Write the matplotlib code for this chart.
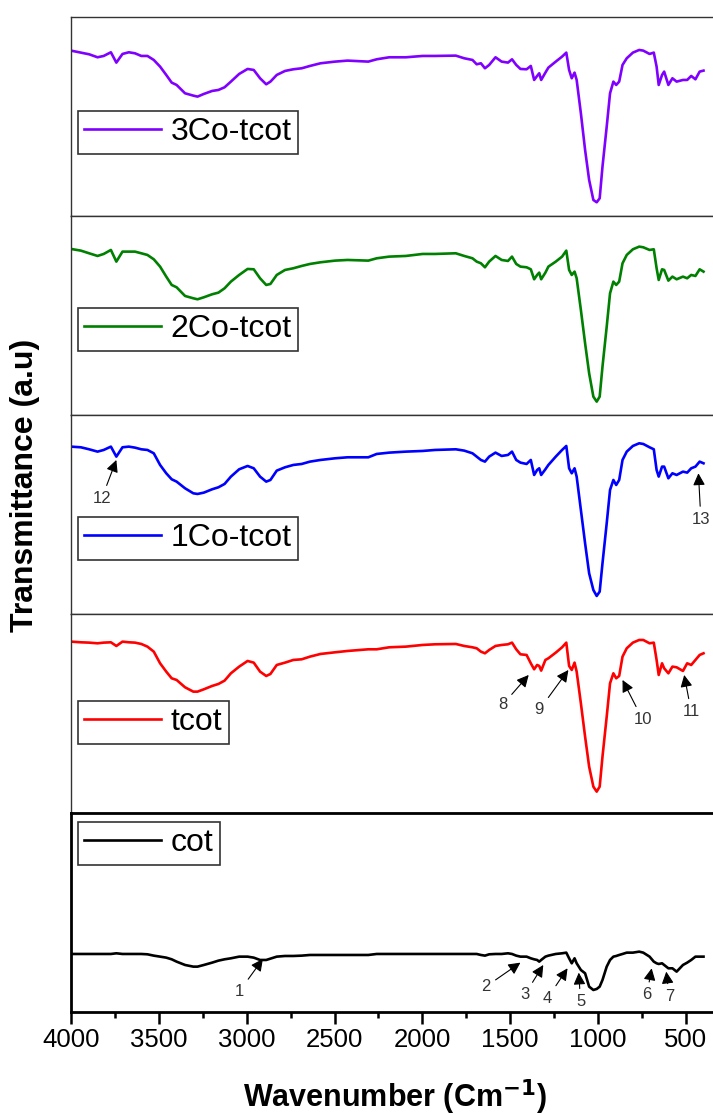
import numpy as np
import matplotlib
matplotlib.use('Agg')
import matplotlib.pyplot as plt

plt.rcParams['font.family'] = ['Liberation Sans', 'DejaVu Sans']

# wavenumber grid (cm-1) shared by all spectra
wavenumber = [4000, 3944, 3897, 3849, 3814, 3773, 3742, 3707, 3671, 3636,
              3600, 3565, 3529, 3493, 3458, 3427, 3399, 3351, 3304, 3280,
              3244, 3197, 3161, 3126, 3090, 3043, 2995, 2960, 2924, 2889,
              2865, 2829, 2782, 2735, 2687, 2640, 2580, 2497, 2426, 2308,
              2260, 2189, 2094, 1999, 1928, 1810, 1762, 1715, 1691, 1667,
              1644, 1620, 1584, 1549, 1513, 1490, 1466, 1442, 1407, 1383,
              1364, 1347, 1335, 1324, 1300, 1283, 1241, 1205, 1181, 1165,
              1150, 1134, 1122, 1098, 1074, 1051, 1027, 1008, 991, 975,
              951, 932, 913, 897, 880, 861, 837, 802, 766, 743,
              707, 683, 667, 655, 636, 624, 600, 577, 553, 517,
              493, 470, 446, 422, 400]

# transmittance (a.u.), one list per sample
t_3co = [496, 490, 485, 476, 480, 491, 460, 486, 491, 488,
         480, 480, 468, 448, 423, 400, 393, 368, 361, 358,
         366, 375, 378, 386, 403, 426, 441, 438, 413, 395,
         403, 423, 435, 440, 443, 450, 458, 463, 466, 463,
         470, 476, 476, 480, 480, 481, 473, 468, 455, 458,
         443, 453, 476, 463, 460, 470, 453, 441, 440, 450,
         408, 420, 428, 408, 430, 445, 463, 478, 490, 438,
         413, 430, 408, 308, 198, 108, 48, 41, 53, 148,
         268, 368, 403, 393, 403, 453, 473, 490, 498, 496,
         486, 490, 448, 393, 423, 433, 393, 413, 403, 408,
         408, 420, 410, 433, 436]

t_2co = [498, 493, 485, 477, 483, 495, 460, 490, 490, 490,
         485, 480, 467, 445, 415, 390, 383, 357, 350, 347,
         353, 362, 367, 380, 400, 420, 438, 437, 410, 390,
         393, 420, 435, 440, 447, 453, 458, 463, 465, 463,
         470, 475, 477, 483, 483, 485, 477, 470, 460, 455,
         443, 460, 477, 465, 462, 475, 453, 445, 443, 437,
         407, 420, 427, 407, 427, 445, 460, 475, 493, 435,
         420, 430, 410, 315, 215, 125, 55, 40, 55, 145,
         265, 365, 400, 390, 400, 455, 480, 497, 505, 503,
         495, 497, 440, 405, 437, 435, 403, 415, 407, 415,
         410, 420, 417, 437, 430]

t_1co = [502, 500, 494, 487, 492, 502, 472, 500, 502, 499,
         494, 492, 482, 447, 422, 404, 397, 377, 362, 360,
         364, 374, 380, 390, 412, 434, 444, 437, 412, 397,
         402, 430, 440, 447, 450, 457, 462, 467, 470, 470,
         480, 484, 487, 489, 492, 494, 490, 482, 472, 462,
         457, 472, 484, 474, 477, 487, 462, 454, 450, 462,
         417, 432, 437, 417, 434, 447, 472, 492, 504, 437,
         422, 437, 412, 312, 212, 122, 72, 54, 67, 152,
         272, 372, 402, 387, 402, 462, 487, 504, 512, 510,
         500, 494, 432, 412, 442, 442, 407, 422, 417, 427,
         424, 437, 442, 457, 452]

t_tcot = [514, 512, 511, 509, 511, 512, 501, 514, 512, 511,
          507, 499, 484, 449, 424, 404, 399, 377, 364, 364,
          371, 381, 387, 397, 419, 439, 456, 451, 424, 411,
          417, 444, 451, 459, 461, 469, 477, 482, 486, 491,
          491, 497, 499, 504, 506, 507, 501, 497, 494, 484,
          479, 489, 501, 504, 506, 511, 491, 476, 474, 449,
          431, 444, 441, 427, 459, 464, 481, 497, 511, 441,
          429, 451, 424, 329, 229, 139, 79, 64, 79, 169,
          289, 389, 419, 404, 411, 469, 494, 511, 519, 519,
          509, 511, 459, 414, 449, 434, 419, 439, 437, 426,
          449, 444, 459, 474, 479]

t_cot = [174, 174, 174, 174, 174, 174, 176, 174, 174, 174,
         174, 173, 169, 166, 163, 158, 151, 141, 136, 136,
         141, 148, 154, 158, 161, 166, 166, 163, 156, 156,
         160, 166, 168, 168, 169, 171, 171, 171, 171, 171,
         174, 174, 174, 174, 174, 174, 174, 174, 174, 171,
         169, 173, 174, 174, 176, 174, 169, 166, 166, 161,
         158, 156, 151, 156, 166, 169, 174, 176, 178, 161,
         146, 161, 146, 126, 116, 76, 66, 69, 76, 96,
         136, 156, 166, 168, 171, 174, 178, 178, 181, 178,
         166, 151, 146, 144, 146, 141, 131, 131, 121, 141,
         148, 156, 166, 166, 166]

labels = ['3Co-tcot', '2Co-tcot', '1Co-tcot', 'tcot', 'cot']
colors = ['#8000ff', '#008000', '#0000ff', '#ff0000', '#000000']
legend_top = [0.528, 0.538, 0.487, 0.563, 0.955]

# band markers: (panel, number, wavenumber, value, label wavenumber, label value)
peaks = [
    (4, '1', 2908, 159, 3043, 61),
    (4, '2', 1442, 148, 1639, 76),
    (4, '3', 1312, 141, 1418, 51),
    (4, '4', 1174, 131, 1288, 41),
    (4, '5', 1110, 118, 1100, 31),
    (4, '6', 695, 131, 723, 51),
    (4, '7', 612, 121, 595, 46),
    (3, '8', 1395, 414, 1544, 324),
    (3, '9', 1169, 429, 1335, 309),
    (3, '10', 861, 399, 747, 281),
    (3, '11', 510, 414, 470, 304),
    (2, '12', 3742, 462, 3825, 347),
    (2, '13', 429, 422, 415, 284),
]

fig, axes = plt.subplots(5, 1, figsize=(7.13, 11.15), dpi=100, sharex=True)
fig.subplots_adjust(left=0.0996, right=1.0, bottom=0.0924, top=0.9848, hspace=0)

series = [t_3co, t_2co, t_1co, t_tcot, t_cot]
for i, ax in enumerate(axes):
    ax.plot(wavenumber, series[i], color=colors[i], lw=1.9, label=labels[i])
    ax.set_xlim(4000, 346)
    ax.set_ylim(0, 597)
    ax.set_yticks([])
    ax.spines['right'].set_visible(False)
    if i < 4:
        for s in ['top', 'bottom', 'left']:
            ax.spines[s].set_color('#333333')
            ax.spines[s].set_linewidth(1.0)
        ax.tick_params(axis='x', which='both', bottom=False, labelbottom=False)
    else:
        for s in ['top', 'bottom', 'left']:
            ax.spines[s].set_color('black')
            ax.spines[s].set_linewidth(2.0)
    leg = ax.legend(loc='upper left', bbox_to_anchor=(0.011, legend_top[i]),
                    fontsize=23, frameon=True, fancybox=False, framealpha=1,
                    borderpad=0.2, handlelength=2.4, handletextpad=0.3,
                    borderaxespad=0)
    leg.get_frame().set_edgecolor('#333333')
    leg.get_frame().set_linewidth(1.2)

for panel, num, w, v, tw, tv in peaks:
    axes[panel].annotate(num, xy=(w, v), xytext=(tw, tv), fontsize=12,
                         color='#333333', ha='center', va='center',
                         arrowprops=dict(arrowstyle='-|>', color='black', lw=0.8,
                                         mutation_scale=18, shrinkA=2, shrinkB=0))

bottom = axes[-1]
bottom.set_xticks([4000, 3500, 3000, 2500, 2000, 1500, 1000, 500])
bottom.set_xticks([3750, 3250, 2750, 2250, 1750, 1250, 750], minor=True)
bottom.tick_params(axis='x', which='major', direction='out', length=8.5, width=1.8,
                   labelsize=18.5, pad=3)
bottom.tick_params(axis='x', which='minor', direction='out', length=4.5, width=1.8)

fig.text(0.554, 1 - 1097 / 1115, 'Wavenumber (Cm$^{\\mathbf{-1}}$)', ha='center', va='center',
         fontsize=22, fontweight='bold')
fig.text(0.035, 0.565, 'Transmittance (a.u)', ha='center', va='center', rotation=90,
         fontsize=23, fontweight='bold')

plt.savefig('out.png', dpi=100)
